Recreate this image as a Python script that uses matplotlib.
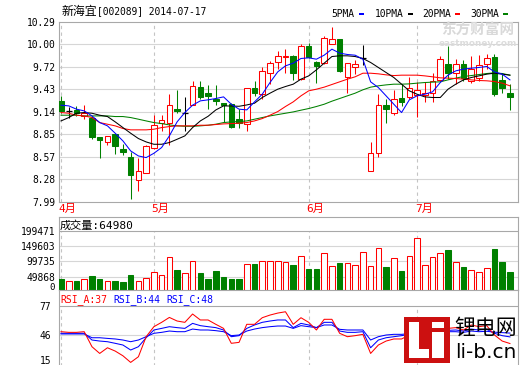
import matplotlib
matplotlib.use('Agg')
import matplotlib.pyplot as plt
from matplotlib.patches import Rectangle
import numpy as np

# ---------------- data ----------------
title_name = '新海宜'
title_code = '[002089] 2014-07-17'

opens = [9.277, 9.150, 9.158, 9.085, 9.064, 8.817, 8.757, 8.851, 8.668, 8.561,
         8.263, 8.353, 8.672, 9.000, 9.000, 9.171, 9.119, 9.222, 9.456, 9.383,
         9.307, 9.247, 9.234, 9.043, 8.979, 9.435, 9.362, 9.630, 9.775, 9.831,
         9.852, 9.554, 9.971, 9.775, 9.758, 10.001, 10.065, 9.588, 9.703, 9.818,
         8.383, 8.608, 9.222, 9.119, 9.315, 9.320, 9.349, 9.349, 9.375, 9.541,
         9.745, 9.630, 9.745, 9.533, 9.575, 9.745, 9.831, 9.545, 9.383]
highs = [9.341, 9.200, 9.213, 9.222, 9.085, 8.820, 8.830, 8.860, 8.723, 8.625,
         8.553, 8.710, 9.094, 9.094, 9.362, 9.418, 9.328, 9.533, 9.533, 9.477,
         9.477, 9.250, 9.247, 9.171, 9.440, 9.533, 9.703, 9.780, 9.916, 9.937,
         9.860, 10.001, 10.014, 9.780, 10.107, 10.214, 10.070, 9.760, 9.800, 9.988,
         8.753, 9.362, 9.307, 9.418, 9.490, 9.584, 9.520, 9.520, 9.630, 9.852,
         9.971, 9.809, 9.800, 9.852, 9.860, 9.873, 9.873, 9.639, 9.490]
lows = [9.128, 9.060, 9.085, 9.043, 8.796, 8.553, 8.715, 8.596, 8.583, 8.029,
        8.127, 8.350, 8.660, 8.894, 8.715, 9.120, 8.894, 9.220, 9.298, 9.179,
        9.222, 9.009, 8.936, 8.936, 8.894, 9.341, 9.298, 9.490, 9.682, 9.639,
        9.541, 9.541, 9.830, 9.511, 9.750, 10.000, 9.647, 9.383, 9.620, 9.733,
        8.380, 8.566, 9.000, 9.094, 9.213, 9.298, 9.077, 9.264, 9.264, 9.530,
        9.554, 9.490, 9.533, 9.511, 9.533, 9.682, 9.341, 9.375, 9.162]
closes = [9.149, 9.150, 9.119, 9.128, 8.821, 8.774, 8.830, 8.702, 8.625, 8.336,
          8.383, 8.702, 8.970, 9.030, 9.222, 9.149, 9.119, 9.469, 9.332, 9.341,
          9.277, 9.222, 8.949, 9.000, 9.435, 9.383, 9.660, 9.758, 9.852, 9.852,
          9.639, 9.971, 9.843, 9.716, 10.078, 10.065, 9.660, 9.758, 9.745, 9.818,
          8.608, 9.222, 9.179, 9.298, 9.268, 9.435, 9.418, 9.375, 9.533, 9.809,
          9.630, 9.745, 9.575, 9.682, 9.733, 9.822, 9.362, 9.439, 9.320]

ma5 = [9.222, 9.213, 9.171, 9.149, 9.085, 9.000, 8.958, 8.864, 8.766, 8.638,
       8.574, 8.553, 8.608, 8.681, 8.830, 9.009, 9.128, 9.222, 9.277, 9.290,
       9.307, 9.328, 9.234, 9.171, 9.162, 9.264, 9.362, 9.511, 9.647, 9.724,
       9.758, 9.818, 9.826, 9.809, 9.860, 9.937, 9.886, 9.869, 9.860, 9.809,
       9.520, 9.447, 9.341, 9.234, 9.128, 9.290, 9.341, 9.362, 9.392, 9.511,
       9.605, 9.660, 9.682, 9.694, 9.703, 9.716, 9.647, 9.618, 9.545]
ma10 = [9.021, 9.064, 9.119, 9.128, 9.119, 9.094, 9.077, 9.009, 8.936, 8.864,
        8.796, 8.753, 8.723, 8.723, 8.745, 8.787, 8.830, 8.936, 9.021, 9.080,
        9.161, 9.213, 9.211, 9.208, 9.225, 9.247, 9.320, 9.375, 9.426, 9.460,
        9.490, 9.554, 9.596, 9.673, 9.758, 9.843, 9.852, 9.852, 9.843, 9.818,
        9.767, 9.703, 9.639, 9.575, 9.490, 9.405, 9.362, 9.328, 9.320, 9.320,
        9.426, 9.490, 9.545, 9.575, 9.596, 9.618, 9.630, 9.618, 9.605]
ma20 = [9.128, 9.119, 9.094, 9.085, 9.064, 9.000, 8.979, 8.958, 8.924, 8.907,
        8.907, 8.907, 8.915, 8.936, 8.949, 8.958, 8.958, 8.958, 8.966, 8.966,
        8.975, 8.983, 8.987, 8.992, 9.000, 9.021, 9.051, 9.094, 9.140, 9.205,
        9.264, 9.341, 9.405, 9.426, 9.452, 9.486, 9.520, 9.554, 9.584, 9.630,
        9.630, 9.622, 9.609, 9.600, 9.605, 9.605, 9.605, 9.596, 9.584, 9.571,
        9.567, 9.562, 9.554, 9.545, 9.537, 9.533, 9.524, 9.503, 9.469]
ma30 = [9.094, 9.094, 9.094, 9.085, 9.085, 9.085, 9.085, 9.077, 9.077, 9.064,
        9.043, 9.021, 9.000, 8.987, 8.970, 8.958, 8.953, 8.953, 8.958, 8.966,
        8.979, 9.000, 9.009, 9.013, 9.021, 9.043, 9.064, 9.085, 9.102, 9.119,
        9.136, 9.158, 9.179, 9.205, 9.234, 9.273, 9.307, 9.341, 9.375, 9.418,
        9.452, 9.469, 9.481, 9.490, 9.490, 9.494, 9.503, 9.511, 9.516, 9.520,
        9.545, 9.567, 9.588, 9.600, 9.613, 9.626, 9.635, 9.626, 9.605]

volumes = [42400, 35900, 35900, 41400, 52000, 41400, 35900, 35900, 33600, 55400,
           35900, 44600, 64100, 55400, 113000, 71700, 62900, 101000, 62900, 42400,
           68400, 48900, 42400, 42400, 90300, 91300, 100000, 100000, 100000, 96800,
           88000, 116000, 75000, 75000, 126000, 83700, 94500, 93500, 87000, 129000,
           83700, 142000, 81500, 110000, 68400, 116000, 175000, 87000, 113000, 126000,
           137000, 96800, 81500, 70700, 64200, 77200, 140000, 97800, 64980]

rsi_a = [49.5, 48.8, 48.8, 49.5, 33.6, 26.5, 32.5, 29.0, 24.0, 17.0,
         23.0, 44.2, 54.8, 59.4, 64.6, 60.8, 59.4, 68.2, 61.9, 61.9,
         57.3, 53.0, 37.2, 38.2, 57.3, 57.3, 64.3, 67.1, 69.2, 70.6,
         57.3, 64.3, 59.4, 51.3, 62.6, 62.6, 47.8, 44.2, 45.3, 46.7,
         26.5, 35.4, 39.6, 41.8, 41.8, 46.0, 49.5, 48.8, 51.3, 56.6,
         53.0, 53.8, 51.3, 56.6, 54.8, 55.9, 46.0, 39.6, 37.0]
rsi_b = [47.8, 47.8, 47.8, 47.8, 40.7, 39.6, 38.9, 37.2, 35.4, 30.1,
         33.6, 43.1, 51.3, 53.0, 54.8, 53.8, 53.0, 58.3, 55.9, 54.8,
         53.8, 51.3, 44.2, 45.3, 53.0, 56.6, 59.4, 60.8, 61.9, 61.9,
         53.8, 58.3, 56.6, 53.8, 59.4, 59.4, 50.2, 48.8, 48.8, 49.5,
         32.5, 40.7, 43.1, 44.2, 45.3, 46.7, 47.8, 47.8, 49.5, 52.3,
         50.9, 51.3, 50.2, 52.3, 51.3, 52.0, 47.8, 45.3, 44.0]
rsi_c = [47.1, 47.1, 47.1, 47.1, 43.1, 43.1, 42.4, 41.8, 40.7, 38.9,
         40.7, 44.2, 47.8, 48.8, 50.2, 49.5, 49.5, 52.3, 51.3, 51.3,
         50.6, 49.5, 45.3, 46.0, 50.2, 52.3, 53.8, 54.8, 55.5, 55.5,
         53.0, 55.9, 54.8, 53.8, 56.6, 56.6, 52.0, 51.3, 51.3, 51.3,
         40.7, 44.2, 46.0, 46.7, 46.7, 47.4, 47.8, 47.8, 48.8, 50.2,
         49.5, 49.5, 48.8, 50.2, 49.5, 49.9, 49.0, 48.5, 48.0]

price_ticks = ['7.99', '8.28', '8.57', '8.85', '9.14', '9.43', '9.72', '10.00', '10.29']
vol_ticks = [49868, 99735, 149603, 199471]
rsi_ticks = [77, 46, 15]
month_idx = [0, 12, 32, 46]
month_labels = ['4月', '5月', '6月', '7月']
ma_names = ['5PMA', '10PMA', '20PMA', '30PMA']
ma_colors = ['#0000ff', '#000000', '#ff0000', '#008000']
vol_last = 64980
rsi_last = ['RSI_A:37', 'RSI_B:44', 'RSI_C:48']

# ---------------- drawing ----------------
W, H = 520, 365
fig = plt.figure(figsize=(5.2, 3.65), dpi=100)
fig.patch.set_facecolor('white')

MONO = ['DejaVu Sans Mono', 'Noto Sans CJK SC']
CJK = ['Noto Sans CJK SC', 'DejaVu Sans']
FRAME = '#a8a8a8'
GRID = '#d6d6d6'
DASH = '#c4c4c4'
UP = '#ff0000'
DOWN = '#008000'


def rect(x0, y0, x1, y1):
    return [x0 / W, 1 - y1 / H, (x1 - x0) / W, (y1 - y0) / H]


def fy(py):
    return 1 - py / H


n = len(closes)
x = np.arange(n)
XL = (-0.22, 59.08)
BW = 0.72


def style(ax):
    for s in ax.spines.values():
        s.set_color(FRAME)
        s.set_linewidth(0.8)
    ax.set_xlim(XL)
    ax.set_xticks([])
    ax.tick_params(axis='y', length=0, pad=3, labelsize=6.9)
    for lab in ax.get_yticklabels():
        lab.set_family(MONO)


# main price panel
ax = fig.add_axes(rect(59.3, 21.5, 518.3, 201.7))
pmin, pmax = float(price_ticks[0]), float(price_ticks[-1])
ax.set_ylim(pmin, pmax)
tickpos = np.linspace(pmin, pmax, len(price_ticks))
ax.set_yticks(tickpos)
ax.set_yticklabels(price_ticks)
style(ax)
for t in tickpos[1:-1]:
    ax.axhline(t, color=GRID, lw=0.8, zorder=0)
for m in month_idx:
    ax.axvline(m, color=DASH, lw=0.8, ls=(0, (3, 3)), zorder=0)

for i in range(n):
    o, h, l, c = opens[i], highs[i], lows[i], closes[i]
    if abs(c - o) < 1e-9:
        ax.vlines(i, l, h, color='black', lw=0.75, zorder=2)
        ax.hlines(c, i - BW / 2, i + BW / 2, color='black', lw=0.9, zorder=3)
    elif c > o:
        ax.vlines(i, l, h, color=UP, lw=0.75, zorder=2)
        ax.bar(i, c - o, BW, bottom=o, facecolor='white', edgecolor=UP, lw=0.75, zorder=3)
    else:
        ax.vlines(i, l, h, color=DOWN, lw=0.75, zorder=2)
        ax.bar(i, o - c, BW, bottom=c, facecolor=DOWN, edgecolor=DOWN, lw=0.75, zorder=3)

for ser, col in zip([ma30, ma20, ma10, ma5], ma_colors[::-1]):
    ax.plot(x, ser, color=col, lw=0.75, zorder=4)

for m, lab in zip(month_idx, month_labels):
    ax.text(m - 0.28, -0.042, lab, transform=ax.get_xaxis_transform(), ha='left',
            va='center', color='#ff0000', fontsize=8, family=MONO)

# volume panel
axv = fig.add_axes(rect(59.3, 216.7, 518.3, 290))
vpx = 3259.0
axv.set_ylim(2 * vpx, (292 - 216.7) * vpx)
axv.set_yticks(vol_ticks)
axv.set_yticklabels([str(v) for v in vol_ticks])
style(axv)
for t in vol_ticks[:-1]:
    axv.axhline(t, color=GRID, lw=0.8, zorder=0)
axv.axhline(vol_ticks[-1], color=FRAME, lw=0.8, zorder=1)
for m in month_idx:
    axv.vlines(m, 0, vol_ticks[-1], color=DASH, lw=0.8, ls=(0, (3, 3)), zorder=0)
for i in range(n):
    if closes[i] >= opens[i]:
        axv.bar(i, volumes[i], BW, facecolor='white', edgecolor=UP, lw=0.75, zorder=3)
    else:
        axv.bar(i, volumes[i], BW, facecolor=DOWN, edgecolor=DOWN, lw=0.75, zorder=3)
fig.text(55 / W, fy(287), '0', ha='right', va='center', fontsize=6.6, family=MONO)
fig.text(60 / W, fy(225.5), '成交量:%d' % vol_last, ha='left', va='center', fontsize=8, family=MONO)

# RSI panel
axr = fig.add_axes(rect(59.3, 290, 518.3, 366))
rpx = 0.945
axr.set_ylim(46 - (366 - 335) / rpx, 46 + (335 - 290) / rpx)
axr.set_yticks([])
style(axr)
axr.axhline(46, color=GRID, lw=0.8, zorder=0)
axr.axhline(rsi_ticks[0], color=FRAME, lw=0.8, zorder=1)
for m in month_idx:
    axr.vlines(m, 0, rsi_ticks[0], color=DASH, lw=0.8, ls=(0, (3, 3)), zorder=0)
axr.plot(x, rsi_c, color='#0000ff', lw=0.75, zorder=3)
axr.plot(x, rsi_b, color='#0000ff', lw=0.75, zorder=3)
axr.plot(x, rsi_a, color='#ff0000', lw=0.75, zorder=4)
for v, py in zip(rsi_ticks, [307, 336, 360.5]):
    fig.text(51 / W, fy(py), str(v), ha='right', va='center', fontsize=6.9, family=MONO)
for txt, col, px in zip(rsi_last, ['#ff0000', '#0000ff', '#0000ff'], [60, 113, 166.5]):
    fig.text(px / W, fy(299.5), txt, ha='left', va='center', fontsize=7, color=col, family=MONO)

# title and legend
fig.text(62 / W, fy(11), title_name, ha='left', va='center', fontsize=8.6, family=CJK)
fig.text(97 / W, fy(11.5), title_code, ha='left', va='center', fontsize=6.9, family=MONO)
for name, col, px in zip(ma_names, ma_colors, [331.5, 375, 422, 470]):
    fig.text(px / W, fy(14), name, ha='left', va='center', fontsize=6.9, family=MONO)
lx = [359, 407.5, 455, 502.5]
for col, px in zip(ma_colors, lx):
    fig.patches.append(Rectangle((px / W, fy(15.2)), 5 / W, 2.6 / H, transform=fig.transFigure,
                                 facecolor=col, edgecolor='none'))

# watermark (eastmoney)
fig.text(478 / W, fy(30), '东方财富网', ha='center', va='center', fontsize=10.5,
         fontweight='bold', color='#d9d9d9', family=CJK)
fig.text(478 / W, fy(43.5), 'eastmoney.com', ha='center', va='center', fontsize=6.4,
         fontweight='bold', color='#dcdcdc', family='DejaVu Sans')

# logo (li-b.cn)
fig.patches.append(Rectangle((404 / W, fy(363)), 46 / W, 46 / H, transform=fig.transFigure,
                             facecolor='#cc1010', edgecolor='none', zorder=5))
for (a, b, c, d) in [(409, 322, 419, 358), (409, 349, 429, 358), (432, 332, 444, 358), (432, 322, 444, 328)]:
    fig.patches.append(Rectangle((a / W, fy(d)), (c - a) / W, (d - b) / H, transform=fig.transFigure,
                                 facecolor='white', edgecolor='none', zorder=6))
fig.text(486 / W, fy(327.5), '锂电网', ha='center', va='center', fontsize=15, family=CJK, zorder=6)
fig.text(486 / W, fy(352), 'li-b.cn', ha='center', va='center', fontsize=14.5, family='DejaVu Sans', zorder=6)

fig.savefig('out.png', dpi=100, facecolor='white')
